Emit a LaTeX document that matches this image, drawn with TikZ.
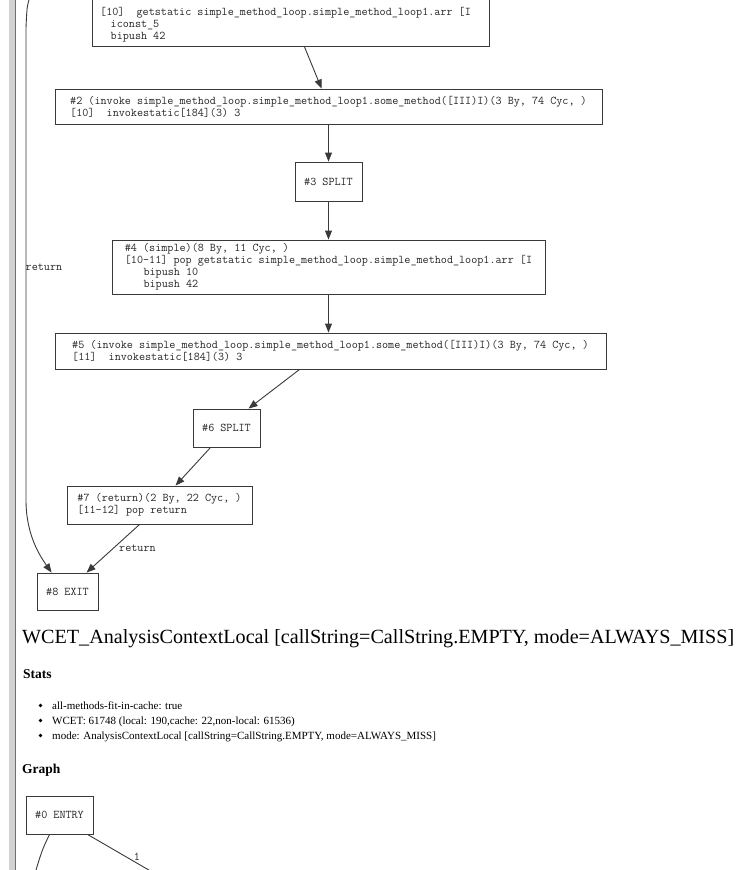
\documentclass[tikz,border=0pt]{standalone}
\usepackage{fontspec}
\usepackage{graphicx}
\setmainfont{Liberation Serif}
\usetikzlibrary{arrows.meta}

\definecolor{boxline}{HTML}{3A3A3A}
\definecolor{graphtext}{HTML}{262626}
\definecolor{barlight}{HTML}{D2D2D2}
\definecolor{bardark}{HTML}{6E6E6E}

% typewriter face of the graph labels (Latin Modern Mono, 0.525em per glyph)
\newcommand\graphfont{\ttfamily\fontsize{11.8}{12}\selectfont}

\begin{document}
\begin{tikzpicture}[x=1pt,y=-1pt,
  gbox/.style={draw=boxline, line width=0.9pt, rectangle, font=\graphfont,
               text=graphtext, align=left, inner xsep=0pt, inner ysep=0pt},
  gtext/.style={font=\graphfont, text=graphtext, align=left, inner sep=0pt},
  flow/.style={draw=boxline, line width=0.9pt, -{Triangle[length=9pt,width=7pt]}},
  elabel/.style={font=\graphfont, text=graphtext, inner sep=0pt, anchor=west},
  heading/.style={inner sep=0pt, anchor=base west},
  dot/.style={circle, fill=black, inner sep=0pt, minimum size=3.6pt},
  bullet/.style={inner sep=0pt, anchor=base west, font=\fontsize{11}{12}\selectfont}]

\useasboundingbox (0,0) rectangle (739,870);
\clip (0,0) rectangle (739,870);
\fill[white] (0,0) rectangle (739,870);

% page margin bar on the left
\fill[barlight] (9,-1) rectangle (15,871);
\draw[bardark, line width=1.2pt] (15.6,-1) -- (15.6,871);

% ---- control flow graph ----
\node[gbox, minimum width=397, minimum height=70, anchor=south] (n1) at (290.5,47) {};
\node[gtext, anchor=south west] (n1code) at (100,42.5)
  {[10]~~getstatic simple\_method\_loop.simple\_method\_loop1.arr [I\\
   \hspace*{10.5pt}iconst\_5\\
   \hspace*{10.5pt}bipush 42};

\node[gbox, minimum width=547, minimum height=35] (n2) at (328.5,106.5)
  {\#2 (invoke simple\_method\_loop.simple\_method\_loop1.some\_method([III)I)(3 By, 74 Cyc, )\\
   {}[10]~~invokestatic[184](3) 3};

\node[gbox, minimum width=67, minimum height=39] (n3) at (328.5,181.5) {\#3 SPLIT};

\node[gbox, minimum width=433, minimum height=54] (n4) at (328.5,267)
  {\#4 (simple)(8 By, 11 Cyc, )\\
   {}[10-11] pop getstatic simple\_method\_loop.simple\_method\_loop1.arr [I\\
   \hspace*{18.6pt}bipush 10\\
   \hspace*{18.6pt}bipush 42};

\node[gbox, minimum width=551, minimum height=36] (n5) at (330.5,351)
  {\#5 (invoke simple\_method\_loop.simple\_method\_loop1.some\_method([III)I)(3 By, 74 Cyc, )\\
   {}[11]~~invokestatic[184](3) 3};

\node[gbox, minimum width=67, minimum height=38] (n6) at (226.5,428) {\#6 SPLIT};

\node[gbox, minimum width=185, minimum height=38] (n7) at (159.5,505)
  {\#7 (return)(2 By, 22 Cyc, )\\
   {}[11-12] pop return};

\node[gbox, minimum width=61, minimum height=37] (n8) at (67.5,591.5) {\#8 EXIT};

\draw[flow] ([xshift=213pt]n1.south west) -- ([xshift=267pt]n2.north west);
\draw[flow] (n2.south) -- (n3.north);
\draw[flow] (n3.south) -- (n4.north);
\draw[flow] (n4.south) -- (n4.south |- n5.north);
\draw[flow] ([xshift=245pt]n5.south west) -- ([xshift=56pt]n6.north west);
\draw[flow] ([xshift=18pt]n6.south west) -- ([xshift=109pt]n7.north west);
\draw[flow] ([xshift=73pt]n7.south west) -- ([xshift=50pt]n8.north west);
\node[elabel] (lret) at (119,548) {return};

% return edge coming from above the visible part
\coordinate (loopin) at (33,-10);
\draw[flow] (loopin) .. controls (27,4) .. (26,28) -- (26,500)
  .. controls (26,535) and (40,556) .. ([xshift=15pt]n8.north west);
\node[elabel] (lloop) at (25.5,267) {return};

% ---- analysis context section ----
\node[heading] (title) at (22,643)
  {\resizebox{712pt}{!}{\fontsize{19}{22}\selectfont WCET\_AnalysisContextLocal [callString=CallString.EMPTY, mode=ALWAYS\_MISS]}};

\node[heading, font=\bfseries\fontsize{13.5}{15}\selectfont] (stats) at (23,678.5) {Stats};

\node[dot] (b1) at (40.5,705.5) {};
\node[bullet] (t1) at (52,709.5) {all-methods-fit-in-cache: true};
\node[dot] (b2) at (40.5,720.5) {};
\node[bullet] (t2) at (52,724.5) {WCET: 61748 (local: 190,cache: 22,non-local: 61536)};
\node[dot] (b3) at (40.5,735.5) {};
\node[bullet] (t3) at (52,739.5) {mode: AnalysisContextLocal [callString=CallString.EMPTY, mode=ALWAYS\_MISS]};

\node[heading, font=\bfseries\fontsize{13.5}{15}\selectfont] (graph) at (22,773.5) {Graph};

% ---- second graph, only its entry is in view ----
\node[gbox, minimum width=67, minimum height=38] (n0) at (59.5,815) {\#0 ENTRY};
\coordinate (out0a) at (33,880);
\coordinate (out0b) at (166,880);
\draw[draw=boxline, line width=0.9pt] ([xshift=24pt]n0.south west) .. controls (42,850) .. (out0a);
\draw[draw=boxline, line width=0.9pt] ([xshift=62pt]n0.south west) -- (out0b);
\node[elabel, anchor=center] (l01) at (137,857) {1};

\end{tikzpicture}
\end{document}
